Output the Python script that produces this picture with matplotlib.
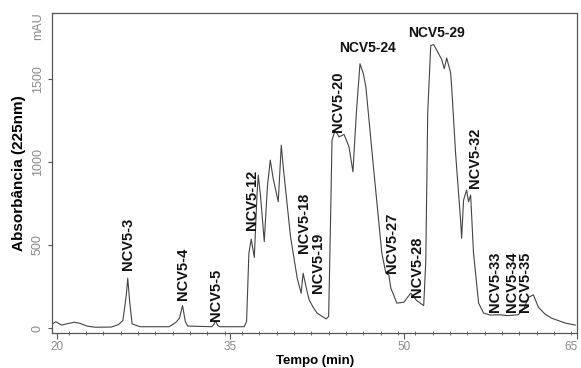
import matplotlib
matplotlib.use("Agg")
import matplotlib.pyplot as plt
from matplotlib.ticker import MultipleLocator

plt.rcParams['font.family'] = ['Liberation Sans', 'DejaVu Sans']

# chromatogram trace: time (min), absorbance (mAU)
tempo = [19.6, 19.9, 20.4, 21.0, 21.5, 22.0, 22.6, 23.3, 24.7, 25.3, 25.7, 26.0, 26.12,
         26.3, 26.5, 27.2, 29.7, 30.3, 30.6, 30.86, 31.1, 31.3, 33.4, 33.6, 33.71, 33.9,
         34.1, 36.2, 36.4, 36.6, 36.8, 37.07, 37.3, 37.41, 37.6, 37.93, 38.2, 38.45, 38.7,
         39.14, 39.4, 39.6, 40.2, 40.78, 41.12, 41.29, 41.6, 41.81, 42.2, 42.5, 43.28, 43.5,
         43.65, 43.79, 44.05, 44.4, 44.83, 45.26, 45.6, 45.9, 46.21, 46.5, 46.72, 47.4,
         48.1, 48.45, 48.7, 48.88, 49.4, 50.0, 50.6, 51.12, 51.72, 51.9, 52.07, 52.33,
         52.59, 53.28, 53.5, 53.71, 54.05, 54.14, 54.48, 54.91, 55.0, 55.17, 55.43, 55.6,
         55.78, 56.03, 56.47, 56.9, 57.5, 58.2, 59.0, 59.9, 60.4, 60.8, 61.21, 61.64,
         62.2, 62.76, 63.97, 64.83]
absorb = [25, 38, 18, 28, 35, 28, 12, 5, 6, 20, 45, 200, 300,
          150, 25, 8, 8, 35, 60, 135, 40, 12, 8, 25, 45, 15,
          8, 8, 40, 450, 535, 425, 800, 920, 800, 520, 850, 1010, 900,
          760, 1100, 950, 550, 300, 210, 330, 230, 170, 120, 90, 55, 70,
          600, 1130, 1190, 1150, 1165, 1090, 940, 1300, 1590, 1530, 1450, 950,
          450, 330, 320, 240, 150, 155, 210, 165, 135, 400, 1300, 1700,
          1705, 1615, 1560, 1625, 1535, 1450, 1050, 650, 540, 770, 830, 760,
          800, 450, 150, 90, 78, 80, 75, 80, 120, 185, 200, 125,
          85, 60, 30, 18]

# rotated peak labels: name, time, absorbance at the foot of the label
picos = ['NCV5-3', 'NCV5-4', 'NCV5-5', 'NCV5-12', 'NCV5-18', 'NCV5-19', 'NCV5-20',
         'NCV5-27', 'NCV5-28', 'NCV5-32', 'NCV5-33', 'NCV5-34', 'NCV5-35']
picos_x = [26.14, 30.90, 33.75, 36.85, 41.37, 42.58, 44.31, 48.98, 51.14, 56.16,
           57.89, 59.36, 60.48]
picos_y = [349, 169, 40, 590, 452, 211, 1180, 331, 187, 843, 96, 96, 96]

# horizontal labels
topo = ['NCV5-24', 'NCV5-29']
topo_x = [46.82, 52.87]
topo_y = [1686, 1776]

xticks = [20, 35, 50, 65]
yticks = [0, 500, 1000, 1500]

fig = plt.figure(figsize=(5.81, 3.68), dpi=100)
ax = fig.add_axes([0.0895, 0.095, 0.904, 0.87])
ax.plot(tempo, absorb, color='#444444', lw=0.8, solid_joinstyle='round')

for n, x, y in zip(picos, picos_x, picos_y):
    ax.text(x, y, n, rotation=90, ha='center', va='bottom', fontsize=10.5,
            fontweight='bold', color='#111111')
for n, x, y in zip(topo, topo_x, topo_y):
    ax.text(x, y, n, ha='center', va='center', fontsize=10,
            fontweight='bold', color='#111111')

ax.set_xlim(19.57, 65.0)
ax.set_ylim(-30, 1896)
ax.set_xticks(xticks)
ax.set_yticks(yticks)
ax.xaxis.set_minor_locator(MultipleLocator(1.5))
ax.tick_params(axis='x', which='major', direction='out', length=4, labelsize=8.5,
               labelcolor='#8a8a8a', color='#555555', pad=2)
ax.tick_params(axis='x', which='minor', direction='inout', length=3, color='#555555')
ax.tick_params(axis='y', direction='out', length=3, labelsize=9,
               labelcolor='#8a8a8a', color='#555555', pad=3)
plt.setp(ax.get_yticklabels(), rotation=90, va='center')
ax.get_xticklabels()[-1].set_ha('right')
ax.text(-0.027, 0.96, 'mAU', rotation=90, transform=ax.transAxes, ha='center',
        va='center', fontsize=9, color='#8a8a8a')

for s in ax.spines.values():
    s.set_color('#555555')
    s.set_linewidth(0.9)

ax.set_xlabel('Tempo (min)', fontsize=9.5, fontweight='bold', labelpad=1)
ax.set_ylabel('Absorbância (225nm)', fontsize=11, fontweight='bold', labelpad=4)

fig.savefig('out.png', dpi=100)
